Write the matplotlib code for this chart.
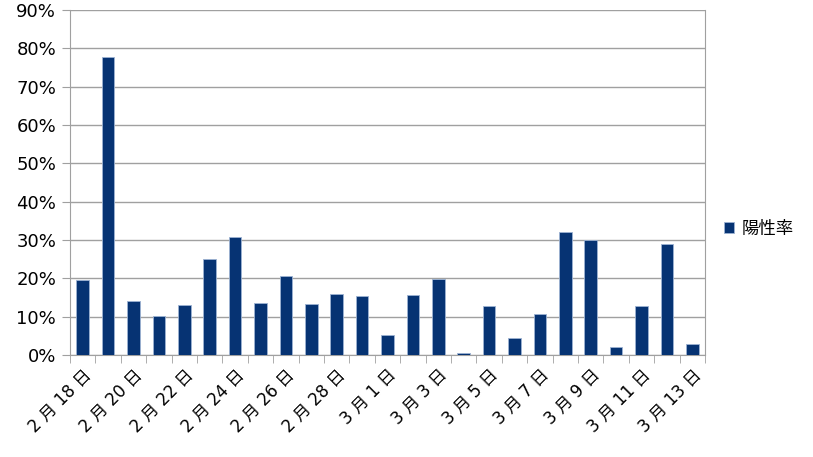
import matplotlib
matplotlib.use("Agg")
import matplotlib.pyplot as plt
import numpy as np

plt.rcParams['font.family'] = ['DejaVu Sans', 'Noto Sans CJK JP']

# dates 2/18 .. 3/13 (2020, leap year)
dates = ["2 月 18 日", "2 月 19 日", "2 月 20 日", "2 月 21 日", "2 月 22 日", "2 月 23 日",
         "2 月 24 日", "2 月 25 日", "2 月 26 日", "2 月 27 日", "2 月 28 日", "2 月 29 日",
         "3 月 1 日", "3 月 2 日", "3 月 3 日", "3 月 4 日", "3 月 5 日", "3 月 6 日",
         "3 月 7 日", "3 月 8 日", "3 月 9 日", "3 月 10 日", "3 月 11 日", "3 月 12 日",
         "3 月 13 日"]
positive_rate = [19.5, 77.8, 14.1, 10.1, 13.0, 25.0, 30.8, 13.5, 20.5, 13.2, 15.9,
                 15.4, 5.1, 15.7, 19.8, 0.4, 12.8, 4.4, 10.7, 32.0, 30.1, 2.1,
                 12.8, 28.9, 3.0]

fig = plt.figure(figsize=(8.13, 4.57), dpi=100)
ax = fig.add_axes([70/813, 102/457, 635/813, 345/457])

x = np.arange(len(dates))
bars = ax.bar(x, positive_rate, width=0.5, color='#063373', edgecolor='#9db3d3',
              linewidth=0.6, label='陽性率', zorder=3)

ax.set_ylim(0, 90)
ax.set_xlim(-0.5, len(dates) - 0.5)
ax.set_yticks(np.arange(0, 91, 10))
ax.set_yticklabels([f"{v}%" for v in range(0, 91, 10)], fontsize=13)
ax.yaxis.grid(True, color='#a0a0a0', linewidth=1, zorder=0)

ax.set_xticks(x[::2])
ax.set_xticklabels(dates[::2], rotation=45, ha='right', rotation_mode='anchor', fontsize=12)
ax.set_xticks(np.arange(-0.5, len(dates), 1), minor=True)
ax.tick_params(axis='x', which='major', length=0, pad=8)
ax.tick_params(axis='x', which='minor', length=6, color='#a0a0a0')
ax.tick_params(axis='y', length=6, color='#a0a0a0', pad=4)

for s in ['left', 'right', 'bottom']:
    ax.spines[s].set_color('#a0a0a0')
ax.spines['top'].set_visible(False)

ax.legend(loc='center left', bbox_to_anchor=(1.005, 0.365), frameon=False, fontsize=12.5,
          handlelength=0.6, handleheight=0.6, handletextpad=0.4)

fig.savefig("out.png", dpi=100)
